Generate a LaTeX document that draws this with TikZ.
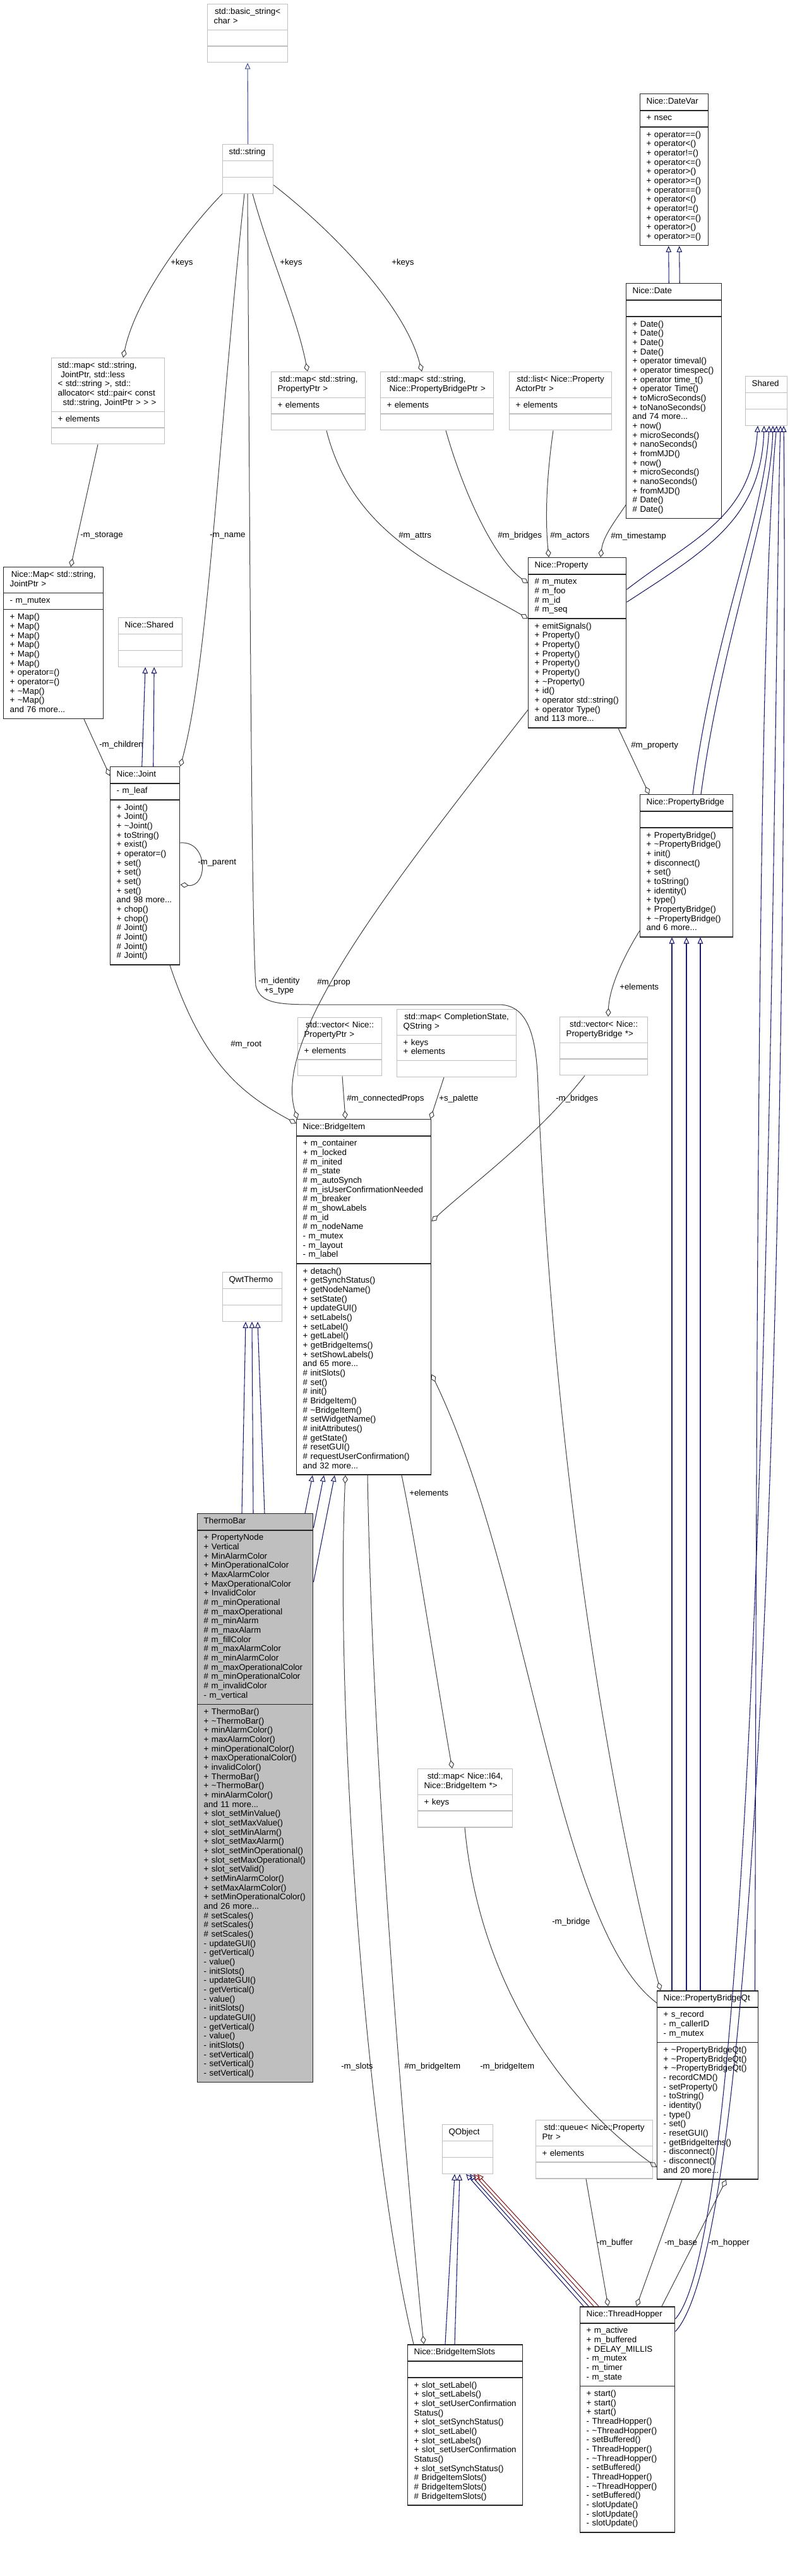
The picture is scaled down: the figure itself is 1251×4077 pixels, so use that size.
\documentclass[tikz,border=0pt]{standalone}
\usepackage{fontspec}
\setmainfont{Liberation Sans}
\usetikzlibrary{arrows.meta, shapes.multipart, calc}

\definecolor{boxgrey}{RGB}{191,191,191}
\definecolor{inhblue}{RGB}{25,25,112}
\definecolor{strblue}{RGB}{64,80,160}
\definecolor{colgrey}{RGB}{64,64,64}
\definecolor{privred}{RGB}{139,26,26}

\hyphenpenalty=10000
% one compartment of a class box
\newcommand{\cm}[1]{\strut#1\strut}

\begin{document}
\begin{tikzpicture}[
  x=0.75pt, y=-0.75pt,
  cls/.style={rectangle split, rectangle split parts=3, draw=boxgrey, line width=0.9pt,
    anchor=north west, align=left, inner xsep=7.5pt, inner ysep=3.75pt,
    font=\fontsize{10}{11}\selectfont, fill=white},
  doc/.style={cls, draw=black!85, line width=1.1pt},
  inh/.style={draw=inhblue, line width=0.8pt, -{Triangle[open, length=7.5pt, width=6.5pt]}},
  col/.style={draw=colgrey, line width=0.75pt, -{Diamond[open, length=10pt, width=6.5pt]}},
  lbl/.style={font=\fontsize{10}{11}\selectfont, inner sep=0pt, anchor=west}
]
\useasboundingbox (0,0) rectangle (1251,4077);

% classes
\node[cls, text width=80.25pt] (bstr) at (328,6)
  {\centering\cm{std::basic\_string<\\char >}\nodepart{two}\strut\nodepart{three}\strut};
\node[cls, text width=45pt] (str) at (352,228)
  {\centering\cm{std::string}\nodepart{two}\strut\nodepart{three}\strut};
\node[doc, text width=66pt] (datevar) at (1013,148)
  {\centering\cm{Nice::DateVar}\nodepart{two}\cm{+ nsec}
   \nodepart{three}\cm{+ operator==()\\+ operator<()\\+ operator!=()\\+ operator<=()\\+ operator>()\\+ operator>=()\\
   + operator==()\\+ operator<()\\+ operator!=()\\+ operator<=()\\+ operator>()\\+ operator>=()}};
\node[doc, text width=98.25pt] (date) at (991,448)
  {\centering\cm{Nice::Date}\nodepart{two}\strut
   \nodepart{three}\cm{+ Date()\\+ Date()\\+ Date()\\+ Date()\\+ operator timeval()\\+ operator timespec()\\
   + operator time\_t()\\+ operator Time()\\+ toMicroSeconds()\\+ toNanoSeconds()\\and 74 more...\\
   + now()\\+ microSeconds()\\+ nanoSeconds()\\+ fromMJD()\\+ now()\\+ microSeconds()\\+ nanoSeconds()\\
   + fromMJD()\\\# Date()\\\# Date()}};
\node[cls, text width=34.5pt] (shared) at (1180,595)
  {\centering\cm{Shared}\nodepart{two}\strut\nodepart{three}\strut};
\node[cls, text width=119.25pt] (mapj) at (81,566)
  {\cm{std::map< std::string,\\\hspace*{3.5pt}JointPtr, std::less\\< std::string >, std::\\allocator< std::pair< const\\
   \hspace*{6pt}std::string, JointPtr > > >}\nodepart{two}\cm{+ elements}\nodepart{three}\strut};
\node[cls, text width=96.75pt] (mapp) at (429,588)
  {\centering\cm{std::map< std::string,\\PropertyPtr >}\nodepart{two}\cm{+ elements}\nodepart{three}\strut};
\node[cls, text width=119.25pt] (mapb) at (602,588)
  {\cm{std::map< std::string,\\\hspace*{3pt}Nice::PropertyBridgePtr >}\nodepart{two}\cm{+ elements}\nodepart{three}\strut};
\node[cls, text width=106.5pt] (lst) at (806,588)
  {\centering\cm{std::list< Nice::Property\\ActorPtr >}\nodepart{two}\cm{+ elements}\nodepart{three}\strut};
\node[doc, text width=101.25pt] (prop) at (836,882)
  {\centering\cm{Nice::Property}\nodepart{two}\cm{\# m\_mutex\\\# m\_foo\\\# m\_id\\\# m\_seq}
   \nodepart{three}\cm{+ emitSignals()\\+ Property()\\+ Property()\\+ Property()\\+ Property()\\+ Property()\\
   + \textasciitilde Property()\\+ id()\\+ operator std::string()\\+ operator Type()\\and 113 more...}};
\node[doc, text width=103.5pt] (mapn) at (5,897)
  {\centering\cm{Nice::Map< std::string,\\JointPtr >}\nodepart{two}\cm{- m\_mutex}
   \nodepart{three}\cm{+ Map()\\+ Map()\\+ Map()\\+ Map()\\+ Map()\\+ Map()\\+ operator=()\\+ operator=()\\
   + \textasciitilde Map()\\+ \textasciitilde Map()\\and 76 more...}};
\node[cls, text width=60.75pt] (nshared) at (187,977)
  {\centering\cm{Nice::Shared}\nodepart{two}\strut\nodepart{three}\strut};
\node[doc, text width=67.5pt] (joint) at (174,1213)
  {\centering\cm{Nice::Joint}\nodepart{two}\cm{- m\_leaf}
   \nodepart{three}\cm{+ Joint()\\+ Joint()\\+ \textasciitilde Joint()\\+ toString()\\+ exist()\\+ operator=()\\
   + set()\\+ set()\\+ set()\\+ set()\\and 98 more...\\+ chop()\\+ chop()\\\# Joint()\\\# Joint()\\\# Joint()\\\# Joint()}};
\node[doc, text width=95.25pt] (pbr) at (1013,1257)
  {\centering\cm{Nice::PropertyBridge}\nodepart{two}\strut
   \nodepart{three}\cm{+ PropertyBridge()\\+ \textasciitilde PropertyBridge()\\+ init()\\+ disconnect()\\+ set()\\
   + toString()\\+ identity()\\+ type()\\+ PropertyBridge()\\+ \textasciitilde PropertyBridge()\\and 6 more...}};
\node[cls, text width=89.25pt] (vecb) at (886,1609)
  {\centering\cm{std::vector< Nice::\\PropertyBridge *>}\nodepart{two}\strut\nodepart{three}\strut};
\node[cls, text width=84.75pt] (vecp) at (471,1610)
  {\centering\cm{std::vector< Nice::\\PropertyPtr >}\nodepart{two}\cm{+ elements}\nodepart{three}\strut};
\node[cls, text width=126.75pt] (mapc) at (628,1597)
  {\centering\cm{std::map< CompletionState,\\QString >}\nodepart{two}\cm{+ keys\\+ elements}\nodepart{three}\strut};
\node[doc, text width=144.75pt] (bitem) at (469,1771)
  {\centering\cm{Nice::BridgeItem}
   \nodepart{two}\cm{+ m\_container\\+ m\_locked\\\# m\_inited\\\# m\_state\\\# m\_autoSynch\\
   \# m\_isUserConfirmationNeeded\\\# m\_breaker\\\# m\_showLabels\\\# m\_id\\\# m\_nodeName\\
   - m\_mutex\\- m\_layout\\- m\_label}
   \nodepart{three}\cm{+ detach()\\+ getSynchStatus()\\+ getNodeName()\\+ setState()\\+ updateGUI()\\
   + setLabels()\\+ setLabel()\\+ getLabel()\\+ getBridgeItems()\\+ setShowLabels()\\and 65 more...\\
   \# initSlots()\\\# set()\\\# init()\\\# BridgeItem()\\\# \textasciitilde BridgeItem()\\\# setWidgetName()\\
   \# initAttributes()\\\# getState()\\\# resetGUI()\\\# requestUserConfirmation()\\and 32 more...}};
\node[cls, text width=55.5pt] (qwt) at (352,2013)
  {\centering\cm{QwtThermo}\nodepart{two}\strut\nodepart{three}\strut};
\node[doc, text width=122.25pt, fill=boxgrey] (thermo) at (312,2395)
  {\centering\cm{ThermoBar}
   \nodepart{two}\cm{+ PropertyNode\\+ Vertical\\+ MinAlarmColor\\+ MinOperationalColor\\+ MaxAlarmColor\\
   + MaxOperationalColor\\+ InvalidColor\\\# m\_minOperational\\\# m\_maxOperational\\\# m\_minAlarm\\
   \# m\_maxAlarm\\\# m\_fillColor\\\# m\_maxAlarmColor\\\# m\_minAlarmColor\\\# m\_maxOperationalColor\\
   \# m\_minOperationalColor\\\# m\_invalidColor\\- m\_vertical}
   \nodepart{three}\cm{+ ThermoBar()\\+ \textasciitilde ThermoBar()\\+ minAlarmColor()\\+ maxAlarmColor()\\
   + minOperationalColor()\\+ maxOperationalColor()\\+ invalidColor()\\+ ThermoBar()\\+ \textasciitilde ThermoBar()\\
   + minAlarmColor()\\and 11 more...\\+ slot\_setMinValue()\\+ slot\_setMaxValue()\\+ slot\_setMinAlarm()\\
   + slot\_setMaxAlarm()\\+ slot\_setMinOperational()\\+ slot\_setMaxOperational()\\+ slot\_setValid()\\
   + setMinAlarmColor()\\+ setMaxAlarmColor()\\+ setMinOperationalColor()\\and 26 more...\\
   \# setScales()\\\# setScales()\\\# setScales()\\- updateGUI()\\- getVertical()\\- value()\\- initSlots()\\
   - updateGUI()\\- getVertical()\\- value()\\- initSlots()\\- updateGUI()\\- getVertical()\\- value()\\
   - initSlots()\\- setVertical()\\- setVertical()\\- setVertical()}};
\node[cls, text width=97.5pt] (mapi) at (661,2799)
  {\centering\cm{std::map< Nice::I64,\\Nice::BridgeItem *>}\nodepart{two}\cm{+ keys}\nodepart{three}\strut};
\node[doc, text width=105pt] (pbqt) at (1040,3150)
  {\centering\cm{Nice::PropertyBridgeQt}\nodepart{two}\cm{+ s\_record\\- m\_callerID\\- m\_mutex}
   \nodepart{three}\cm{+ \textasciitilde PropertyBridgeQt()\\+ \textasciitilde PropertyBridgeQt()\\
   + \textasciitilde PropertyBridgeQt()\\- recordCMD()\\- setProperty()\\- toString()\\- identity()\\- type()\\
   - set()\\- resetGUI()\\- getBridgeItems()\\- disconnect()\\- disconnect()\\and 20 more...}};
\node[cls, text width=45pt] (qobj) at (700,3362)
  {\centering\cm{QObject}\nodepart{two}\strut\nodepart{three}\strut};
\node[cls, text width=123.75pt] (queue) at (848,3355)
  {\centering\cm{std::queue< Nice::Property\\Ptr >}\nodepart{two}\cm{+ elements}\nodepart{three}\strut};
\node[doc, text width=121.5pt] (bslots) at (645,3710)
  {\centering\cm{Nice::BridgeItemSlots}\nodepart{two}\strut
   \nodepart{three}\cm{+ slot\_setLabel()\\+ slot\_setLabels()\\+ slot\_setUserConfirmation\\Status()\\
   + slot\_setSynchStatus()\\+ slot\_setLabel()\\+ slot\_setLabels()\\+ slot\_setUserConfirmation\\Status()\\
   + slot\_setSynchStatus()\\\# BridgeItemSlots()\\\# BridgeItemSlots()\\\# BridgeItemSlots()}};
\node[doc, text width=97.5pt] (thop) at (918,3650)
  {\centering\cm{Nice::ThreadHopper}\nodepart{two}\cm{+ m\_active\\+ m\_buffered\\+ DELAY\_MILLIS\\- m\_mutex\\- m\_timer\\- m\_state}
   \nodepart{three}\cm{+ start()\\+ start()\\+ start()\\- ThreadHopper()\\- \textasciitilde ThreadHopper()\\- setBuffered()\\
   - ThreadHopper()\\- \textasciitilde ThreadHopper()\\- setBuffered()\\- ThreadHopper()\\- \textasciitilde ThreadHopper()\\
   - setBuffered()\\- slotUpdate()\\- slotUpdate()\\- slotUpdate()}};

% inheritance
\draw[inh, draw=strblue] (str.north) -- (bstr.south);
\draw[inh] ($(date.north)+(-8,0)$) -- ($(datevar.south)+(-9,0)$);
\draw[inh] ($(date.north)+(9,0)$) -- ($(datevar.south)+(8,0)$);
\draw[inh] ($(joint.north)+(-5,0)$) -- ($(nshared.south)+(-8,0)$);
\draw[inh] ($(joint.north)+(13,0)$) -- ($(nshared.south)+(6,0)$);
\draw[inh] ($(prop.north east)+(0,51)$) .. controls (1100,850) and (1190,820) .. ($(shared.south west)+(20,0)$);
\draw[inh] ($(prop.north east)+(0,71)$) .. controls (1120,870) and (1205,820) .. ($(shared.south west)+(30,0)$);
\draw[inh] ($(pbr.north west)+(84,0)$) .. controls (1130,1000) and (1210,820) .. ($(shared.south west)+(38,0)$);
\draw[inh] ($(pbr.north west)+(97,0)$) .. controls (1145,1000) and (1220,820) .. ($(shared.south west)+(44,0)$);
\foreach \dx in {24,47,69}
  \draw[inh] ($(pbqt.north west)+(\dx,0)$) -- ($(pbr.south west)+(\dx+27,0)$);
\draw[inh] ($(thermo.north west)+(71,0)$) -- ($(qwt.south west)+(37,0)$);
\draw[inh] ($(thermo.north west)+(89,0)$) -- ($(qwt.south west)+(47,0)$);
\draw[inh] ($(thermo.north west)+(107,0)$) -- ($(qwt.south west)+(56,0)$);
\draw[inh] ($(thermo.north west)+(171,0)$) -- ($(bitem.south west)+(26,0)$);
\draw[inh] ($(thermo.north east)+(0,23)$) -- ($(bitem.south west)+(44,0)$);
\draw[inh] ($(thermo.north east)+(0,109)$) -- ($(bitem.south west)+(61,0)$);
\draw[inh] ($(pbqt.north east)+(-6,0)$) .. controls (1198,2400) and (1198,1000) .. ($(shared.south west)+(50,0)$);
\draw[inh] ($(thop.north east)+(0,20)$) .. controls (1222,3500) and (1225,1000) .. ($(shared.south west)+(56,0)$);
\draw[inh] ($(thop.north east)+(0,40)$) .. controls (1245,3500) and (1245,1000) .. ($(shared.south west)+(61,0)$);
\draw[inh] ($(bslots.north west)+(60,0)$) -- ($(qobj.south west)+(20,0)$);
\draw[inh] ($(bslots.north west)+(75,0)$) -- ($(qobj.south west)+(28,0)$);
\draw[inh] ($(thop.north west)+(6,0)$) -- ($(qobj.south west)+(38,0)$);
\draw[inh] ($(thop.north west)+(14,0)$) -- ($(qobj.south west)+(44,0)$);
\draw[inh, draw=privred] ($(thop.north west)+(22,0)$) -- ($(qobj.south west)+(50,0)$);
\draw[inh, draw=privred] ($(thop.north west)+(30,0)$) -- ($(qobj.south west)+(56,0)$);

% collaboration
\draw[col] (str.south west) .. controls (300,360) and (215,470) .. ($(mapj.north west)+(114,0)$);
\draw[col] ($(str.south west)+(48,0)$) .. controls (425,400) and (470,500) .. ($(mapp.north west)+(58,0)$);
\draw[col] ($(str.south east)+(0,-14)$) .. controls (520,360) and (640,480) .. ($(mapb.north west)+(66,0)$);
\draw[col] ($(str.south west)+(35,0)$) .. controls (345,700) and (330,1050) .. (joint.north east);
\draw[col] ($(str.south west)+(40,0)$) .. controls (396,900) and (398,1450) .. (405,1560)
  .. controls (412,1588) and (440,1590) .. (500,1590) -- (790,1590)
  .. controls (840,1590) and (850,1650) .. (852,1720) .. controls (880,2400) and (990,2950) .. ($(pbqt.north west)+(6,0)$);
\draw[col] ($(mapj.south west)+(74,0)$) -- ($(mapn.north west)+(107,0)$);
\draw[col] ($(mapn.south west)+(128,0)$) -- ($(joint.north west)+(0,15)$);
\draw[col] ($(joint.north east)+(0,121)$) .. controls (330,1330) and (330,1405) .. ($(joint.north east)+(0,187)$);
\draw[col] ($(joint.south west)+(95,0)$) .. controls (320,1680) and (380,1730) .. ($(bitem.north west)+(0,7)$);
\draw[col] ($(mapp.south west)+(88,0)$) .. controls (560,850) and (700,900) .. ($(prop.north west)+(0,97)$);
\draw[col] ($(mapb.south west)+(104,0)$) .. controls (740,800) and (790,890) .. ($(prop.north west)+(0,41)$);
\draw[col] ($(lst.south west)+(70,0)$) .. controls (862,780) and (865,840) .. ($(prop.north west)+(33,0)$);
\draw[col] ($(date.south west)+(0,-22)$) .. controls (970,830) and (955,850) .. ($(prop.north west)+(115,0)$);
\draw[col] ($(prop.south west)+(143,0)$) -- ($(pbr.north west)+(15,0)$);
\draw[col] ($(prop.south west)+(0,-29)$) .. controls (620,1400) and (430,1640) .. ($(bitem.north west)+(2,0)$);
\draw[col] ($(vecp.south west)+(71,0)$) -- ($(bitem.north west)+(78,0)$);
\draw[col] ($(mapc.south west)+(75,0)$) -- ($(bitem.north east)+(-2,0)$);
\draw[col] ($(vecb.south west)+(40,0)$) .. controls (850,1800) and (740,1880) .. ($(bitem.north east)+(0,162)$);
\draw[col] ($(pbr.north west)+(0,216)$) .. controls (990,1510) and (965,1560) .. ($(vecb.north west)+(77,0)$);
\draw[col] ($(bitem.south west)+(167,0)$) .. controls (660,2450) and (690,2650) .. ($(mapi.north west)+(55,0)$);
\draw[col] ($(bitem.south west)+(113,0)$) .. controls (590,2800) and (640,3400) .. ($(bslots.north west)+(26,0)$);
\draw[col] ($(bslots.north west)+(10,0)$) .. controls (580,3400) and (530,2700) .. ($(bitem.south west)+(78,0)$);
\draw[col] ($(pbqt.north west)+(0,20)$) .. controls (880,3050) and (840,2500) .. ($(bitem.north east)+(0,404)$);
\draw[col] ($(mapi.south west)+(75,0)$) .. controls (760,3150) and (900,3330) .. ($(pbqt.south west)+(0,-20)$);
\draw[col] ($(queue.south west)+(80,0)$) -- ($(thop.north west)+(45,0)$);
\draw[col] ($(pbqt.south west)+(40,0)$) -- ($(thop.north west)+(90,0)$);
\draw[col] ($(thop.north west)+(130,0)$) -- ($(pbqt.south west)+(110,0)$);

% edge labels
\node[lbl] (l-keys1) at (270,416) {+keys};
\node[lbl] (l-keys2) at (443,416) {+keys};
\node[lbl] (l-keys3) at (620,416) {+keys};
\node[lbl] (l-storage) at (127,848) {-m\_storage};
\node[lbl] (l-name) at (332,848) {-m\_name};
\node[lbl] (l-attrs) at (631,848) {\#m\_attrs};
\node[lbl] (l-bridges) at (788,848) {\#m\_bridges};
\node[lbl] (l-actors) at (871,848) {\#m\_actors};
\node[lbl] (l-stamp) at (967,849) {\#m\_timestamp};
\node[lbl] (l-children) at (157,1179) {-m\_children};
\node[lbl] (l-property) at (999,1180) {\#m\_property};
\node[lbl] (l-parent) at (313,1366) {-m\_parent};
\node[lbl, align=center, anchor=north west] (l-ident) at (409,1547) {-m\_identity\\+s\_type};
\node[lbl] (l-prop) at (502,1555) {\#m\_prop};
\node[lbl] (l-elem1) at (981,1562) {+elements};
\node[lbl] (l-root) at (365,1653) {\#m\_root};
\node[lbl] (l-conn) at (549,1739) {\#m\_connectedProps};
\node[lbl] (l-palette) at (695,1739) {+s\_palette};
\node[lbl] (l-mbridges) at (880,1739) {-m\_bridges};
\node[lbl] (l-elem2) at (648,2363) {+elements};
\node[lbl] (l-bridge) at (874,3042) {-m\_bridge};
\node[lbl] (l-slots) at (540,3271) {-m\_slots};
\node[lbl] (l-bitem1) at (640,3271) {\#m\_bridgeItem};
\node[lbl] (l-bitem2) at (760,3271) {-m\_bridgeItem};
\node[lbl] (l-buffer) at (945,3550) {-m\_buffer};
\node[lbl] (l-base) at (1052,3550) {-m\_base};
\node[lbl] (l-hopper) at (1122,3550) {-m\_hopper};
\end{tikzpicture}
\end{document}
